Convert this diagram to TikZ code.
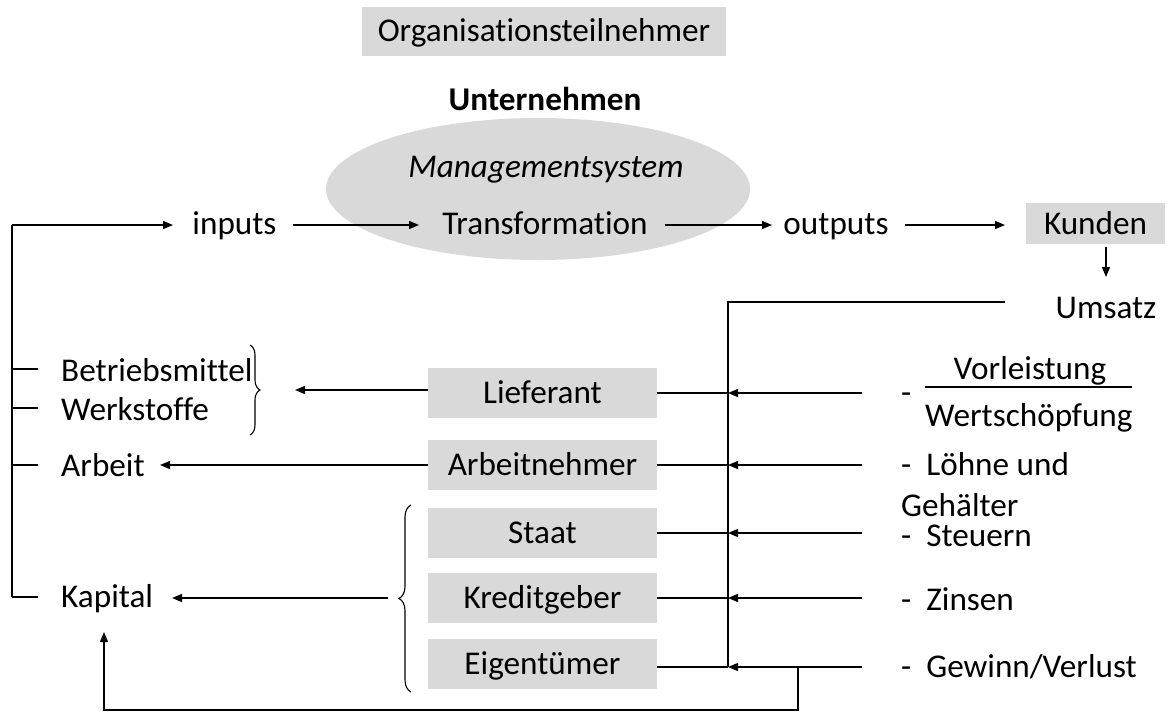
\documentclass[tikz,border=0pt]{standalone}
\usepackage{fontspec}
\setmainfont{Carlito}[Ligatures=NoCommon]
\usetikzlibrary{shapes.geometric,arrows.meta,decorations.pathreplacing}
\definecolor{boxgray}{HTML}{D9D9D9}
\tikzset{
  txt/.style={inner sep=0pt, text height=21pt, text depth=0pt, font=\fontsize{33.2}{40}\selectfont},
  graybox/.style={txt, fill=boxgray, minimum width=229pt, minimum height=50pt},
  thickline/.style={line width=2pt},
  arr/.style={line width=1.3pt, -{Triangle[length=10pt,width=8pt]}},
  thinline/.style={line width=1.3pt},
  bracestyle/.style={line width=1.1pt, decorate}
}
\begin{document}
\begin{tikzpicture}[x=1pt,y=-1pt]
\useasboundingbox (0,0) rectangle (1173,713);

% header
\node[txt, fill=boxgray, minimum width=364pt, minimum height=49pt] (org) at (544,31) {Organisationsteilnehmer};
\node[txt, font=\fontsize{33.2}{40}\selectfont\bfseries] (unt) at (545,100) {Unternehmen};

% management system
\node[ellipse, fill=boxgray, minimum width=424pt, minimum height=142pt, inner sep=0pt] (ell) at (538,189) {};
\node[txt, font=\fontsize{33.2}{40}\selectfont\itshape] (mgmt) at (546,167) {Managementsystem};
\node[txt] (trans) at (545,224) {Transformation};
\node[txt] (inputs) at (234.5,224) {inputs};
\node[txt] (outputs) at (836,224) {outputs};
\node[txt, fill=boxgray, minimum width=139pt, minimum height=41pt] (kunden) at (1095.5,223.5) {Kunden};
\node[txt] (umsatz) at (1106,308) {Umsatz};

% main flow
\coordinate (a1) at (293,225);
\coordinate (a2) at (419,225);
\coordinate (a3) at (665,225);
\coordinate (a4) at (772,225);
\coordinate (a5) at (905,225);
\coordinate (a6) at (1005,225);
\coordinate (k0) at (1106,247);
\coordinate (k1) at (1106,277);
\draw[arr] (a1) -- (a2);
\draw[arr] (a3) -- (a4);
\draw[arr] (a5) -- (a6);
\draw[arr] (k0) -- (k1);

% participants
\node[graybox] (lief) at (542.5,393) {Lieferant};
\node[graybox] (arbn) at (542.5,465) {Arbeitnehmer};
\node[graybox] (staat) at (542.5,532.5) {Staat};
\node[graybox] (kred) at (542.5,598) {Kreditgeber};
\node[graybox] (eig) at (542.5,664) {Eigentümer};

% revenue distribution
\coordinate (top) at (728,302);
\coordinate (jL) at (728,393);
\coordinate (jA) at (728,465);
\coordinate (jS) at (728,533);
\coordinate (jK) at (728,598);
\coordinate (jE) at (728,667);
\coordinate (utop) at (1005,302);
\draw[thickline] (utop) -- (top) -- (jE);
\draw[thickline] (lief.east |- jL) -- (jL);
\draw[thickline] (arbn.east |- jA) -- (jA);
\draw[thickline] (staat.east |- jS) -- (jS);
\draw[thickline] (kred.east |- jK) -- (jK);
\draw[thickline] (eig.east |- jE) -- (jE);

\coordinate (rL) at (862,393);
\coordinate (rA) at (862,465);
\coordinate (rS) at (862,533);
\coordinate (rK) at (862,598);
\coordinate (rE) at (862,667);
\draw[arr] (rL) -- (jL);
\draw[arr] (rA) -- (jA);
\draw[arr] (rS) -- (jS);
\draw[arr] (rK) -- (jK);
\draw[arr] (rE) -- (jE);

% right-hand labels
\node[txt, anchor=west] (d1) at (901,393) {-};
\node[txt] (vorl) at (1030,369) {Vorleistung};
\coordinate (ul1) at (925,387);
\coordinate (ul2) at (1132,387);
\draw[thinline] (ul1) -- (ul2);
\node[txt, anchor=west] (wert) at (925,416) {Wertschöpfung};
\node[txt, anchor=west] (loehne) at (901,465) {-\ \ Löhne und};
\node[txt, anchor=west] (geh) at (901,506) {Gehälter};
\node[txt, anchor=west] (steuern) at (901,536) {-\ \ Steuern};
\node[txt, anchor=west] (zinsen) at (901,600) {-\ \ Zinsen};
\node[txt, anchor=west] (gewinn) at (901,667) {-\ \ Gewinn/Verlust};

% left-hand factors
\node[txt, anchor=west] (betr) at (61,371) {Betriebsmittel};
\node[txt, anchor=west] (werk) at (61,410) {Werkstoffe};
\node[txt, anchor=west] (arbeit) at (61,466) {Arbeit};
\node[txt, anchor=west] (kapital) at (61,597) {Kapital};

\coordinate (L0) at (12,225);
\coordinate (L1) at (12,597);
\coordinate (Lt) at (173,225);
\draw[thickline] (L1) -- (L0);
\draw[arr] (L0) -- (Lt);
\draw[thickline] (12,369) -- (38,369);
\draw[thickline] (12,408) -- (38,408);
\draw[thickline] (12,465) -- (38,465);
\draw[thickline] (L1) -- (38,597);

% braces
\draw[bracestyle, decoration={brace, amplitude=10pt, aspect=0.5}] (250,345) coordinate (b1) -- (250,435) coordinate (b2);
\draw[bracestyle, decoration={brace, amplitude=12pt, aspect=0.5}] (411,692) coordinate (b3) -- (411,505) coordinate (b4);

% flows to the factors
\coordinate (fL) at (295,390);
\coordinate (fA) at (160,465);
\coordinate (kb) at (388,598);
\coordinate (fK) at (172,598);
\draw[arr] (lief.west |- fL) -- (fL);
\draw[arr] (arbn.west) -- (fA);
\draw[arr] (kb) -- (fK);

% profit feedback loop
\coordinate (g0) at (798,667);
\coordinate (g1) at (798,710);
\coordinate (g2) at (104,710);
\coordinate (g3) at (104,632);
\draw[thinline, -{Triangle[length=10pt,width=8pt]}] (g0) -- (g1) -- (g2) -- (g3);
\end{tikzpicture}
\end{document}
